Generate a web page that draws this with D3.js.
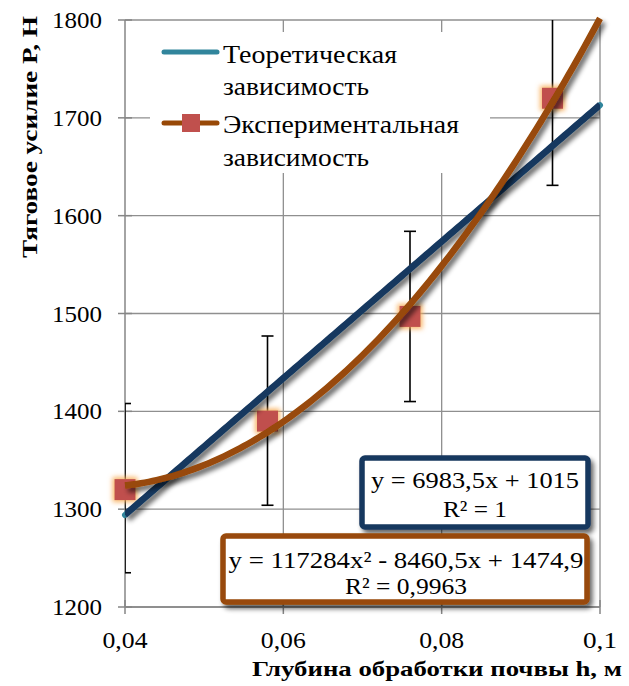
<!DOCTYPE html>
<html><head><meta charset="utf-8">
<script src="https://cdn.jsdelivr.net/npm/d3@7/dist/d3.min.js"></script>
<style>body{margin:0;background:#fff}svg{display:block}</style>
</head><body>
<svg id="c" width="629" height="686"></svg>
<script>
// ---- data ----
const xTicks = [0.04, 0.06, 0.08, 0.1];
const xTickLabels = ["0,04", "0,06", "0,08", "0,1"];
const yTicks = [1200, 1300, 1400, 1500, 1600, 1700, 1800];
const expX = [0.04, 0.058, 0.076, 0.094];
const expY = [1320, 1390, 1497, 1720];
const expErrLow = [1235, 1304, 1410, 1631];
const expErrHigh = [1408, 1477, 1584, 1808];
const theoX = [0.04, 0.1];
const theoY = [1294, 1713];
const linCoef = [1015, 6983.5];              // y = b0 + b1 x
const polyCoef = [1474.9, -8460.5, 117284];  // y = c0 + c1 x + c2 x^2
const legendLabels = [["Теоретическая", "зависимость"], ["Экспериментальная", "зависимость"]];
const eq1 = ["y = 6983,5x + 1015", "R² = 1"];
const eq2 = ["y = 117284x² - 8460,5x + 1474,9", "R² = 0,9963"];
const xTitle = "Глубина обработки почвы h, м";
const yTitle = "Тяговое усилие Р, Н";

const svg = d3.select("#c");
const L = 125, R = 600, T = 20, B = 607;
const x = d3.scaleLinear().domain([0.04, 0.1]).range([L, R]);
const y = d3.scaleLinear().domain([1200, 1800]).range([B, T]);
const serif = "Liberation Serif";

function txt(g, px, py, s, size, anchor, len, bold) {
  const t = g.append("text").attr("x", px).attr("y", py).attr("text-anchor", anchor)
    .attr("font-family", serif).attr("font-size", size).attr("fill", "#000").text(s);
  if (bold) t.attr("font-weight", "bold");
  if (len) t.attr("textLength", len).attr("lengthAdjust", "spacingAndGlyphs");
  return t;
}

const defs = svg.append("defs");
const sh = defs.append("filter").attr("id", "sh").attr("x", "-20%").attr("y", "-20%").attr("width", "140%").attr("height", "140%");
sh.append("feGaussianBlur").attr("in", "SourceAlpha").attr("stdDeviation", 2.5).attr("result", "b");
sh.append("feOffset").attr("in", "b").attr("dx", 3).attr("dy", 4).attr("result", "o");
sh.append("feComponentTransfer").attr("in", "o").attr("result", "o2").append("feFuncA").attr("type", "linear").attr("slope", 0.6);
const m1 = sh.append("feMerge"); m1.append("feMergeNode").attr("in", "o2"); m1.append("feMergeNode").attr("in", "SourceGraphic");

const gl = defs.append("filter").attr("id", "glow").attr("x", "-60%").attr("y", "-60%").attr("width", "220%").attr("height", "220%");
gl.append("feMorphology").attr("in", "SourceAlpha").attr("operator", "dilate").attr("radius", 1.5).attr("result", "d");
gl.append("feGaussianBlur").attr("in", "d").attr("stdDeviation", 2.5).attr("result", "b");
gl.append("feFlood").attr("flood-color", "#F8A94E").attr("flood-opacity", 0.85).attr("result", "f");
gl.append("feComposite").attr("in", "f").attr("in2", "b").attr("operator", "in").attr("result", "g");
const m2 = gl.append("feMerge"); m2.append("feMergeNode").attr("in", "g"); m2.append("feMergeNode").attr("in", "SourceGraphic");

const clip = defs.append("clipPath").attr("id", "clip");
clip.append("rect").attr("x", L).attr("y", T).attr("width", R - L).attr("height", B - T);

// gridlines
const grid = svg.append("g").attr("stroke", "#8f8f8f").attr("stroke-width", 1.3);
grid.selectAll("line.h").data(yTicks).join("line").attr("class", "h").attr("x1", L).attr("x2", R)
  .attr("y1", d => y(d)).attr("y2", d => y(d));
grid.selectAll("line.v").data(xTicks.slice(1)).join("line").attr("class", "v").attr("y1", T).attr("y2", B)
  .attr("x1", d => x(d)).attr("x2", d => x(d));

// axes
const axG = svg.append("g").attr("stroke", "#868686").attr("stroke-width", 1.5);
axG.append("line").attr("x1", L).attr("x2", L).attr("y1", T).attr("y2", B);
axG.append("line").attr("x1", L).attr("x2", R).attr("y1", B).attr("y2", B);
axG.selectAll("line.ty").data(yTicks).join("line").attr("class", "ty").attr("x1", L - 7).attr("x2", L + 7)
  .attr("y1", d => y(d)).attr("y2", d => y(d));
axG.selectAll("line.tx").data(xTicks).join("line").attr("class", "tx").attr("y1", B - 7).attr("y2", B + 7)
  .attr("x1", d => x(d)).attr("x2", d => x(d));

const lab = svg.append("g");
yTicks.forEach(d => txt(lab, 102, y(d) + 8, String(d), 23, "end", 50));
xTicks.forEach((d, i) => txt(lab, x(d), 648, xTickLabels[i], 23, "middle", xTickLabels[i].length === 3 ? 34 : 45));

// legend background
svg.append("rect").attr("x", 150).attr("y", 32).attr("width", 340).attr("height", 141).attr("fill", "#fff");

// error bars
const eb = svg.append("g").attr("stroke", "#000").attr("stroke-width", 1.6).attr("clip-path", "url(#clip)");
expX.forEach((v, i) => {
  const cx = x(v);
  eb.append("line").attr("x1", cx).attr("x2", cx).attr("y1", y(expErrLow[i])).attr("y2", y(expErrHigh[i]));
  [expErrLow[i], expErrHigh[i]].forEach(e => {
    eb.append("line").attr("x1", cx - 6).attr("x2", cx + 6).attr("y1", y(e)).attr("y2", y(e));
  });
});

// theoretical series (teal) under its trendline
svg.append("path").datum(theoX.map((v, i) => [v, theoY[i]]))
  .attr("d", d3.line().x(d => x(d[0])).y(d => y(d[1])))
  .attr("stroke", "#31859C").attr("stroke-width", 6).attr("fill", "none").attr("stroke-linecap", "round");

// experimental markers
svg.append("g").selectAll("rect").data(expX).join("rect")
  .attr("x", d => x(d) - 10.5).attr("y", (d, i) => y(expY[i]) - 10.5)
  .attr("width", 21).attr("height", 21).attr("fill", "#C0504D").attr("filter", "url(#glow)");

// trendlines
const plot = svg.append("g").attr("clip-path", "url(#clip)");
const tx = d3.range(0, 121).map(i => 0.04 + i * 0.0005);
plot.append("path").datum(tx.map(v => [v, linCoef[0] + linCoef[1] * v]))
  .attr("d", d3.line().x(d => x(d[0])).y(d => y(d[1])))
  .attr("stroke", "#17375E").attr("stroke-width", 6.5).attr("fill", "none").attr("filter", "url(#sh)");
svg.append("path").datum(tx.map(v => [v, polyCoef[0] + polyCoef[1] * v + polyCoef[2] * v * v]))
  .attr("d", d3.line().x(d => x(d[0])).y(d => y(d[1])))
  .attr("stroke", "#984807").attr("stroke-width", 6.5).attr("fill", "none").attr("filter", "url(#sh)");

// legend
const lg = svg.append("g");
lg.append("line").attr("x1", 164).attr("x2", 217).attr("y1", 52).attr("y2", 52)
  .attr("stroke", "#31859C").attr("stroke-width", 5).attr("stroke-linecap", "round");
lg.append("line").attr("x1", 164).attr("x2", 217).attr("y1", 123).attr("y2", 123)
  .attr("stroke", "#984807").attr("stroke-width", 5).attr("stroke-linecap", "round");
lg.append("rect").attr("x", 182).attr("y", 114).attr("width", 18).attr("height", 18).attr("fill", "#C0504D");
const legY = [[63, 95], [133, 166]];
const legW = [[174, 146], [236, 146]];
legendLabels.forEach((lines, k) => lines.forEach((t, j) => txt(lg, 223, legY[k][j], t, 25, "start", legW[k][j])));

// equation boxes
function eqBox(x0, y0, w, h, col, lines, cx, ly, lw) {
  const g = svg.append("g");
  g.append("rect").attr("x", x0).attr("y", y0).attr("width", w).attr("height", h)
    .attr("fill", "#fff").attr("stroke", col).attr("stroke-width", 5.5).attr("rx", 3).attr("filter", "url(#sh)");
  lines.forEach((t, j) => txt(g, cx, ly[j], t, 23, "middle", lw[j]));
}
eqBox(362, 458, 226, 69, "#17375E", eq1, 475, [488, 517], [208, 64]);
eqBox(223, 536, 364, 66, "#984807", eq2, 406, [568, 594], [355, 122]);

// axis titles
txt(svg, 622, 676, xTitle, 22, "end", 370, true);
svg.append("text").attr("transform", "translate(37,137) rotate(-90)").attr("text-anchor", "middle")
  .attr("font-family", serif).attr("font-size", 22).attr("font-weight", "bold")
  .attr("textLength", 242).attr("lengthAdjust", "spacingAndGlyphs").text(yTitle);
</script>
</body></html>
